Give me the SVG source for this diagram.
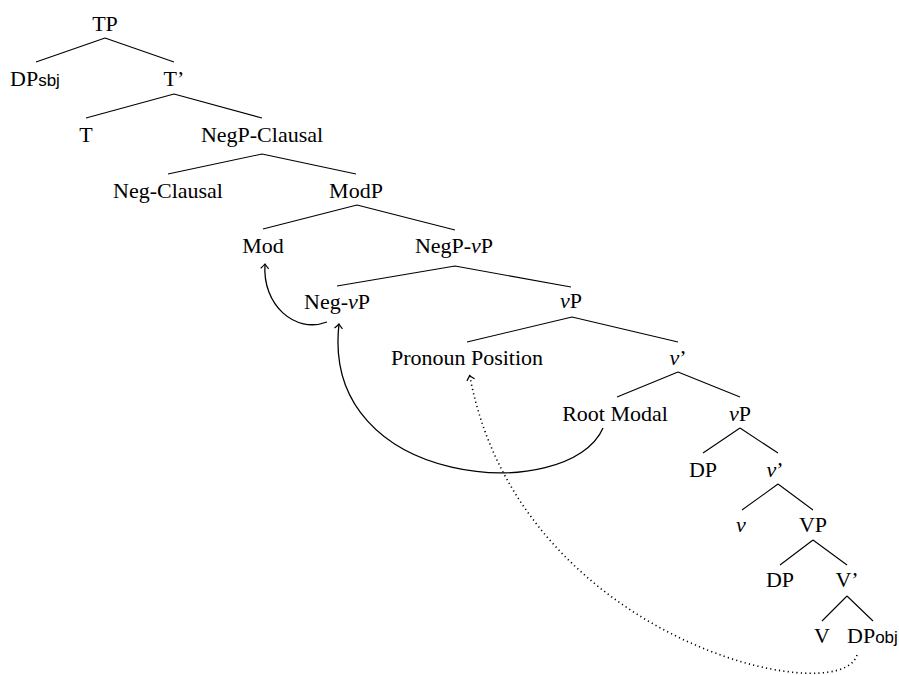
<svg xmlns="http://www.w3.org/2000/svg" width="899" height="675" viewBox="0 0 899 675">
  <style>
    text { font-family: "Liberation Serif", "Times New Roman", serif; font-size: 22px; fill: #000; text-anchor: middle; }
    .it { font-style: italic; }
    .sub { font-family: "Liberation Sans", Arial, sans-serif; font-size: 17px; }
    .edge { stroke: #000; stroke-width: 1.1; fill: none; }
    .move { stroke: #000; stroke-width: 1.3; fill: none; }
    .dots { stroke: #000; stroke-width: 1.6; fill: none; stroke-dasharray: 1.2 3.2; }
  </style>
  <defs>
    <marker id="tip" markerUnits="userSpaceOnUse" markerWidth="12" markerHeight="12" viewBox="-6 -6 12 12" refX="0" refY="0" orient="auto">
      <path d="M -4.5 -4 Q -1.5 -1 0 0 Q -1.5 1 -4.5 4" stroke="#000" stroke-width="1.2" fill="none"/>
    </marker>
  </defs>

  <!-- tree branches -->
  <g id="connectors">
    <path class="edge" d="M105 38 L36 62 M105 38 L174 62"/>
    <path class="edge" d="M174 94 L86 118 M174 94 L262 118"/>
    <path class="edge" d="M262 154 L168 174 M262 154 L356 174"/>
    <path class="edge" d="M357 205 L263 229 M357 205 L455 230"/>
    <path class="edge" d="M455 266 L337 286 M455 266 L571 287"/>
    <path class="edge" d="M572 317 L467 342 M572 317 L678 342"/>
    <path class="edge" d="M678 372 L617 397 M678 372 L740 397"/>
    <path class="edge" d="M740 428 L703 453 M740 428 L778 453"/>
    <path class="edge" d="M778 484 L742 510 M778 484 L813 510"/>
    <path class="edge" d="M813 540 L780 565 M813 540 L847 565"/>
    <path class="edge" d="M847 596 L822 621 M847 596 L873 621"/>
    <!-- movement arrows -->
    <path class="move" d="M327 322 C295 334, 262 305, 265 264" marker-end="url(#tip)"/>
    <path class="move" d="M603 428 C570 505, 320 490, 339 324" marker-end="url(#tip)"/>
    <path class="dots" d="M857 655 C840 712, 520 640, 470 377"/>
    <path class="move" d="M470 377 L469.6 375.5" marker-end="url(#tip)" stroke="none"/>
  </g>

  <g id="TP"><text x="105" y="31">TP</text></g>
  <g id="DPsbj"><text x="10" y="86" style="text-anchor:start">DP<tspan class="sub">sbj</tspan></text></g>
  <g id="Tbar"><text x="174" y="86">T’</text></g>
  <g id="T"><text x="86" y="142">T</text></g>
  <g id="NegP-Clausal"><text x="262" y="142">NegP-Clausal</text></g>
  <g id="Neg-Clausal"><text x="168" y="198">Neg-Clausal</text></g>
  <g id="ModP"><text x="356" y="198">ModP</text></g>
  <g id="Mod"><text x="263" y="253">Mod</text></g>
  <g id="NegP-vP"><text x="454" y="253">NegP-<tspan class="it">v</tspan>P</text></g>
  <g id="Neg-vP"><text x="337" y="309">Neg-<tspan class="it">v</tspan>P</text></g>
  <g id="vP1"><text x="571" y="308"><tspan class="it">v</tspan>P</text></g>
  <g id="PronounPosition"><text x="467" y="365">Pronoun Position</text></g>
  <g id="vbar1"><text x="678" y="365"><tspan class="it">v</tspan>’</text></g>
  <g id="RootModal"><text x="615" y="421">Root Modal</text></g>
  <g id="vP2"><text x="740" y="421"><tspan class="it">v</tspan>P</text></g>
  <g id="DP1"><text x="703" y="477">DP</text></g>
  <g id="vbar2"><text x="775" y="477"><tspan class="it">v</tspan>’</text></g>
  <g id="v"><text x="741" y="532" class="it">v</text></g>
  <g id="VP"><text x="813" y="532">VP</text></g>
  <g id="DP2"><text x="780" y="587">DP</text></g>
  <g id="Vbar"><text x="847" y="587">V’</text></g>
  <g id="V"><text x="822" y="643">V</text></g>
  <g id="DPobj"><text x="847" y="643" style="text-anchor:start">DP<tspan class="sub">obj</tspan></text></g>
</svg>
